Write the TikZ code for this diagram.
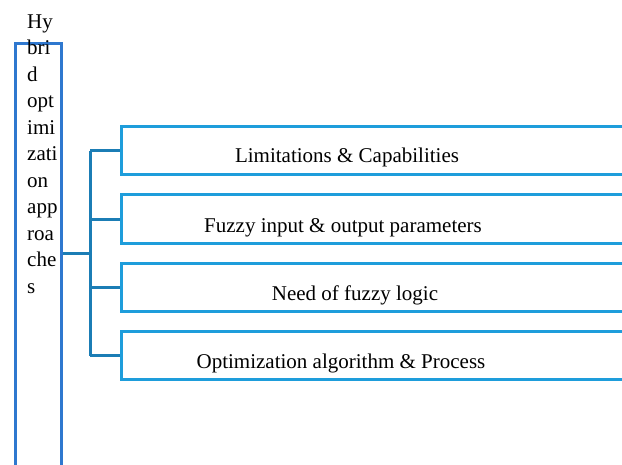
\documentclass[tikz,border=0pt]{standalone}
\usepackage{fontspec}
\setmainfont{Liberation Serif}
\definecolor{rectblue}{HTML}{2F78CF}
\definecolor{treeblue}{HTML}{1B7DB5}
\definecolor{boxblue}{HTML}{1E9DDB}
\begin{document}
\begin{tikzpicture}[x=1pt,y=-1pt,
  lbl/.style={font=\fontsize{21}{26.5}\selectfont, inner sep=0pt},
  itembox/.style={draw=boxblue, line width=3pt, rectangle, inner sep=0pt,
    anchor=west, minimum width=600pt, minimum height=48.5pt},
  treeline/.style={draw=treeblue, line width=3pt},
  tallbox/.style={draw=rectblue, line width=3pt, rectangle, inner sep=0pt,
    anchor=north west, minimum width=46.5pt, minimum height=480pt}]
\useasboundingbox (0,0) rectangle (622,464);
\clip (0,0) rectangle (622,464);
% tall box and its text
\node[tallbox] (hy) at (13.5,41.7) {};
\node[lbl, anchor=north west, align=left] (hyt) at (27,14.2)
  {Hy\\bri\\d\\opt\\imi\\zati\\on\\app\\roa\\che\\s};
% item boxes
\node[itembox] (b1) at (119.5,150.5) {};
\node[itembox] (b2) at (119.5,219.2) {};
\node[itembox] (b3) at (119.5,287.3) {};
\node[itembox] (b4) at (119.5,355.5) {};
\node[lbl, anchor=base] (t1) at (347,162) {Limitations \& Capabilities};
\node[lbl, anchor=base] (t2) at (343,232) {Fuzzy input \& output parameters};
\node[lbl, anchor=base] (t3) at (355,300) {Need of fuzzy logic};
\node[lbl, anchor=base] (t4) at (341,368) {Optimization algorithm \& Process};
% tree
\coordinate (trunktop) at (90,150.5);
\coordinate (trunkbot) at (90,355.5);
\coordinate (trunkmid) at (90,253);
\draw[treeline] (trunktop) -- (trunkbot);
\draw[treeline] (hy.east |- trunkmid) -- (trunkmid);
\draw[treeline] (trunktop) -- (b1.west);
\draw[treeline] (90,219.2) -- (b2.west);
\draw[treeline] (90,287.3) -- (b3.west);
\draw[treeline] (trunkbot) -- (b4.west);
\end{tikzpicture}
\end{document}
